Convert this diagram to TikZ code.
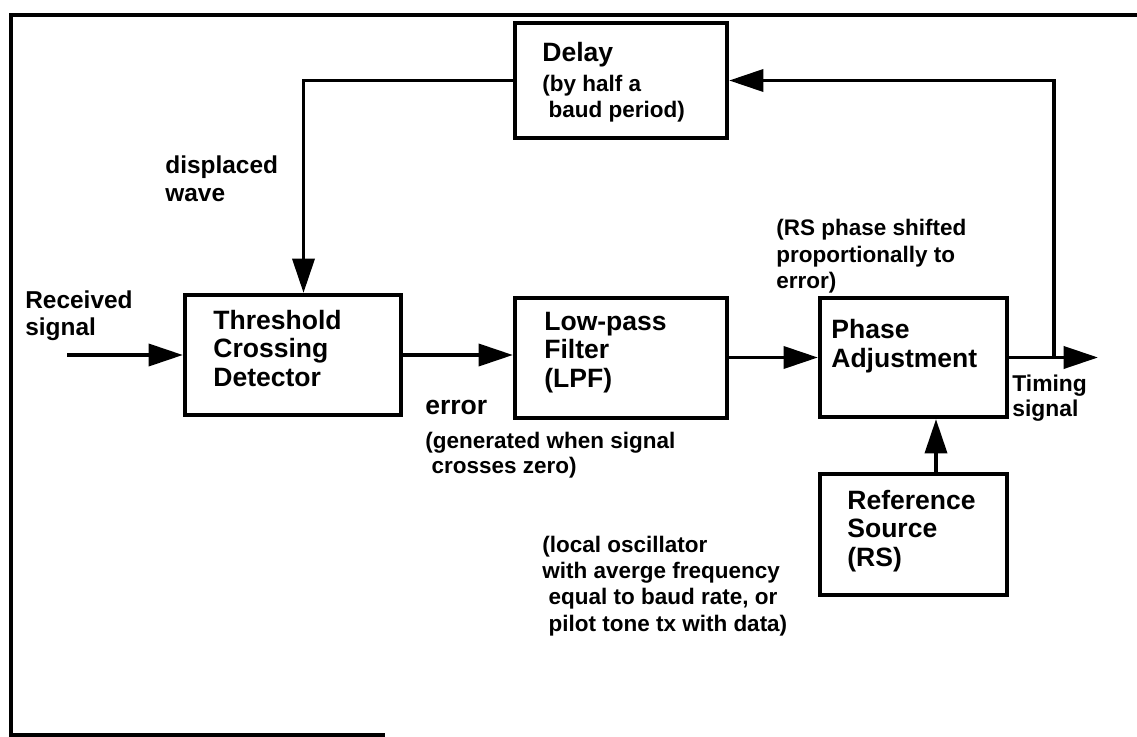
\documentclass[tikz,border=0pt]{standalone}
\usepackage{fontspec}
\setmainfont{Liberation Sans}
\usetikzlibrary{arrows.meta}

\begin{document}
\begin{tikzpicture}[x=0.02cm, y=-0.02cm,
  blk/.style={draw, line width=2.4pt, inner sep=0pt, minimum width=#1},
  title/.style={anchor=west, inner sep=0pt, align=left,
    font={\fontsize{15.1pt}{16.2pt}\selectfont\bfseries}},
  side/.style={anchor=west, inner sep=0pt, align=left,
    font={\fontsize{13.9pt}{15.2pt}\selectfont\bfseries}},
  note/.style={anchor=west, inner sep=0pt, align=left,
    font={\fontsize{12.8pt}{15pt}\selectfont\bfseries}},
  arr/.style={line width=2.1pt, -{Triangle[length=19.5pt,width=12.5pt]}}]

\useasboundingbox (0,0) rectangle (1137,737);

% outer frame (open on the right and on the lower right)
\draw[line width=2pt] (1137,15) -- (11,15) -- (11,735) -- (385,735);

% blocks
\node[blk=4.24cm, minimum height=2.30cm] (delay) at (621,80.5) {};
\node[blk=4.32cm, minimum height=2.40cm] (tcd)   at (293,355) {};
\node[blk=4.24cm, minimum height=2.40cm] (lpf)   at (621,358) {};
\node[blk=3.74cm, minimum height=2.38cm] (pa)    at (913.5,357.5) {};
\node[blk=3.74cm, minimum height=2.42cm] (rs)    at (913.5,534.5) {};

% block captions
\node[title] (delayT) at (542,55) {Delay};
\node[note]  (delayN) at (542,98.5) {(by half a\\\ baud period)};
\node[title] (tcdT) at (213,348.5) {Threshold\\Crossing\\Detector};
\node[title] (lpfT) at (544,352.5) {Low-pass\\Filter\\(LPF)};
\node[title] (paT)  at (831,346) {Phase\\Adjustment};
\node[title] (rsT)  at (847,531) {Reference\\Source\\(RS)};

% signal labels and remarks
\node[side] (recvL) at (25,315.5) {Received\\signal};
\node[side, font={\fontsize{13.9pt}{16pt}\selectfont\bfseries}] (dispL) at (165,179) {displaced\\wave};
\node[title] (errL) at (425,407) {error};
\node[note, font={\fontsize{12.8pt}{14.2pt}\selectfont\bfseries}] (genL) at (425,455.5) {(generated when signal\\\ crosses zero)};
\node[note] (shiftL) at (776,256.5) {(RS phase shifted\\proportionally to\\error)};
\node[note, font={\fontsize{13pt}{14.2pt}\selectfont\bfseries}] (timL) at (1012,398.5) {Timing\\signal};
\node[note] (oscL) at (542,586) {(local oscillator\\with averge frequency\\\ equal to baud rate, or\\\ pilot tone tx with data)};

% free ends of the wires
\coordinate (rin) at (67,355);
\coordinate (out) at (1098,357.5);
\coordinate (tap) at (1054,357.5);

% connectors
\draw[arr] (rin) -- (tcd.west);
\draw[arr] (tcd.east) -- (lpf.west |- tcd.east);
\draw[arr] (lpf.east |- pa.west) -- (pa.west);
\draw[arr] (pa.east) -- (out);
\draw[arr] (tap) |- (delay.east);
\draw[arr] (delay.west) -| ([xshift=0.21cm]tcd.north);
\draw[arr] ([xshift=0.45cm]rs.north) -- ([xshift=0.45cm]pa.south);

\end{tikzpicture}
\end{document}
